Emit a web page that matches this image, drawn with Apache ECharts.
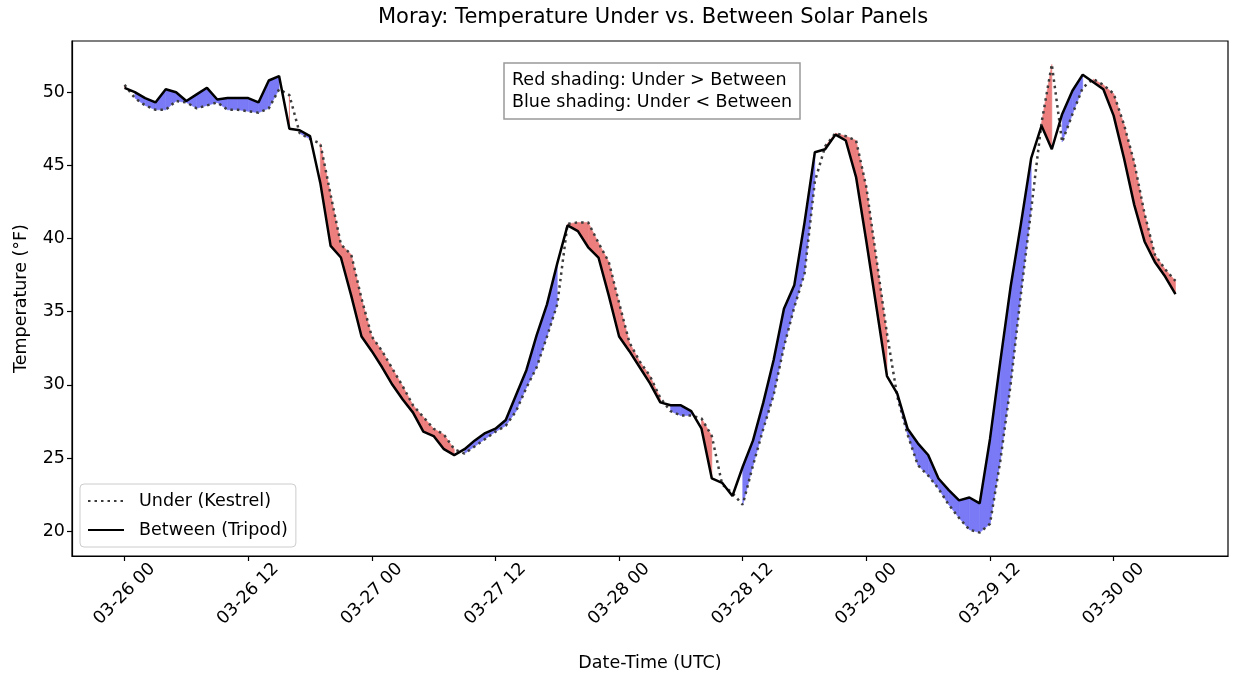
<!DOCTYPE html>
<html>
<head>
<meta charset="utf-8">
<script src="https://cdn.jsdelivr.net/npm/echarts@6/dist/echarts.min.js"></script>
<style>
html,body{margin:0;padding:0;background:#fff;}
#chart{width:1233px;height:677px;}
</style>
</head>
<body>
<div id="chart"></div>
<script>
// Hourly samples, hours since 2025-03-26 00:00 UTC
const hours = [
  0, 1, 2, 3, 4, 5, 6, 7, 8, 9,
  10, 11, 12, 13, 14, 15, 16, 17, 18, 19,
  20, 21, 22, 23, 24, 25, 26, 27, 28, 29,
  30, 31, 32, 33, 34, 35, 36, 37, 38, 39,
  40, 41, 42, 43, 44, 45, 46, 47, 48, 49,
  50, 51, 52, 53, 54, 55, 56, 57, 58, 59,
  60, 61, 62, 63, 64, 65, 66, 67, 68, 69,
  70, 71, 72, 73, 74, 75, 76, 77, 78, 79,
  80, 81, 82, 83, 84, 85, 86, 87, 88, 89,
  90, 91, 92, 93, 94, 95, 96, 97, 98, 99,
  100, 101, 102
];
const under = [
  50.5, 49.6, 49.1, 48.8, 48.8, 49.4, 49.3, 48.9, 49.1, 49.3,
  48.8, 48.8, 48.7, 48.6, 48.9, 50.2, 49.8, 47.2, 46.8, 46.5,
  43.0, 39.6, 38.9, 35.9, 33.3, 32.3, 31.1, 29.9, 28.6, 27.8,
  27.0, 26.6, 25.6, 25.3, 25.8, 26.3, 26.8, 27.2, 28.2, 29.8,
  31.2, 33.3, 35.5, 41.0, 41.1, 41.1, 39.7, 38.4, 35.6, 32.9,
  31.6, 30.6, 29.1, 28.2, 27.9, 27.9, 27.7, 26.5, 23.2, 22.6,
  21.8, 24.5, 27.0, 29.3, 32.6, 35.3, 37.6, 43.9, 46.3, 47.2,
  47.0, 46.7, 43.5, 38.5, 33.5, 29.2, 26.6, 24.5, 23.8, 22.9,
  21.8, 20.9, 20.1, 19.9, 20.5, 24.8, 30.0, 36.2, 42.0, 47.9,
  51.9, 46.6, 48.5, 50.3, 50.9, 50.5, 49.9, 47.8, 45.2, 41.7,
  38.9, 37.9, 37.1
];
const between = [
  50.3, 50.0, 49.6, 49.3, 50.2, 50.0, 49.4, 49.85, 50.3, 49.5,
  49.6, 49.6, 49.6, 49.3, 50.8, 51.1, 47.5, 47.4, 47.0, 43.8,
  39.5, 38.7, 36.1, 33.3, 32.3, 31.2, 30.0, 29.0, 28.1, 26.8,
  26.5, 25.6, 25.2, 25.6, 26.2, 26.7, 27.0, 27.6, 29.3, 31.0,
  33.4, 35.5, 38.3, 40.9, 40.5, 39.4, 38.7, 36.1, 33.3, 32.3,
  31.2, 30.1, 28.8, 28.6, 28.6, 28.2, 27.0, 23.6, 23.3, 22.4,
  24.4, 26.2, 28.8, 31.7, 35.2, 36.8, 41.1, 45.9, 46.1, 47.1,
  46.7, 44.2, 39.8, 35.2, 30.6, 29.4, 27.0, 26.0, 25.2, 23.6,
  22.8, 22.1, 22.3, 21.9, 26.3, 31.6, 36.7, 41.0, 45.5, 47.7,
  46.1, 48.5, 50.1, 51.2, 50.7, 50.2, 48.4, 45.5, 42.3, 39.8,
  38.4, 37.4, 36.2
];
const xTickHours = [0, 12, 24, 36, 48, 60, 72, 84, 96];
const xTickLabels = ['03-26 00', '03-26 12', '03-27 00', '03-27 12', '03-28 00', '03-28 12', '03-29 00', '03-29 12', '03-30 00'];
const yTicks = [20, 25, 30, 35, 40, 45, 50];

const FONT = 'DejaVu Sans';
const FS = 17.5;
const RED = '#ec7e7e';
const BLUE = '#7a7af6';
const DOT = '#3c3c3c';

const n = hours.length;
const sgn = i => Math.sign(under[i] - between[i]);
const fillData = hours.map((h, i) => [h, under[i], between[i]]);

const chart = echarts.init(document.getElementById('chart'), null, {renderer: 'canvas'});
const option = {
  animation: false,
  backgroundColor: '#ffffff',
  grid: {left: 72, right: 5, top: 41, bottom: 120, show: true, borderColor: '#000', borderWidth: 1.2, backgroundColor: 'transparent'},
  graphic: [{
    type: 'text', left: 378, top: 7,
    style: {text: 'Moray: Temperature Under vs. Between Solar Panels', fontFamily: FONT, fontSize: 21, fill: '#000'}
  }],
  title: [{
    text: 'Red shading: Under > Between\nBlue shading: Under < Between',
    left: 504, top: 63, padding: [6, 8, 6, 8],
    borderColor: '#999', borderWidth: 1.5,
    backgroundColor: '#fff',
    textStyle: {fontFamily: FONT, fontSize: FS, fontWeight: 'normal', color: '#000', lineHeight: 22}
  }],
  legend: {
    orient: 'vertical', left: 80, top: 484,
    itemWidth: 36, itemHeight: 14, itemGap: 11,
    padding: [8, 8, 8, 7],
    borderColor: '#cccccc', borderWidth: 1, borderRadius: 4,
    backgroundColor: 'rgba(255,255,255,0.8)',
    itemStyle: {color: 'rgba(0,0,0,0)', borderColor: 'rgba(0,0,0,0)', borderWidth: 0, opacity: 0},
    textStyle: {fontFamily: FONT, fontSize: FS, color: '#000', padding: [0, 0, 0, 10]},
    data: ['Under (Kestrel)', 'Between (Tripod)']
  },
  xAxis: {
    type: 'value',
    min: -5.1, max: 107.1,
    name: 'Date-Time (UTC)', nameLocation: 'middle', nameGap: 98,
    nameTextStyle: {fontFamily: FONT, fontSize: FS, color: '#000'},
    axisLine: {show: true, onZero: false, lineStyle: {color: '#000', width: 1.2}},
    axisTick: {show: true, length: 5, lineStyle: {color: '#000', width: 1.2}, customValues: xTickHours},
    axisLabel: {
      customValues: xTickHours,
      rotate: 45, align: 'center', verticalAlign: 'middle', margin: 38,
      fontFamily: FONT, fontSize: FS, color: '#000',
      formatter: function (v) {
        const idx = xTickHours.indexOf(Math.round(v));
        return idx >= 0 ? xTickLabels[idx] : '';
      }
    },
    splitLine: {show: false}
  },
  yAxis: {
    type: 'value', min: 18.3, max: 53.5,
    name: 'Temperature (°F)', nameLocation: 'middle', nameGap: 42,
    nameTextStyle: {fontFamily: FONT, fontSize: FS, color: '#000'},
    axisLine: {show: true, onZero: false, lineStyle: {color: '#000', width: 1.2}},
    axisTick: {show: true, length: 5, lineStyle: {color: '#000', width: 1.2}, customValues: yTicks},
    axisLabel: {customValues: yTicks, fontFamily: FONT, fontSize: FS, color: '#000', margin: 7},
    splitLine: {show: false}
  },
  series: [
    {
      type: 'custom', name: 'shading', silent: true, z: 1,
      data: fillData,
      encode: {x: 0, y: [1, 2]},
      renderItem: function (params, api) {
        const i = params.dataIndex;
        const si = sgn(i);
        if (si === 0) return null;
        const children = [];
        const color = si > 0 ? RED : BLUE;
        if (i < n - 1 && sgn(i + 1) === si) {
          const pts = [
            api.coord([hours[i], under[i]]),
            api.coord([hours[i + 1], under[i + 1]]),
            api.coord([hours[i + 1], between[i + 1]]),
            api.coord([hours[i], between[i]])
          ];
          children.push({type: 'polygon', shape: {points: pts}, style: {fill: color, stroke: color, lineWidth: 0.6}});
        } else {
          const prevSame = i > 0 && sgn(i - 1) === si;
          if (!prevSame) {
            const a = api.coord([hours[i], under[i]]);
            const b = api.coord([hours[i], between[i]]);
            children.push({type: 'line', shape: {x1: a[0], y1: a[1], x2: b[0], y2: b[1]}, style: {stroke: color, lineWidth: 1}});
          }
        }
        return {type: 'group', children: children};
      }
    },
    {
      type: 'line', name: 'Under (Kestrel)', z: 3,
      data: hours.map((h, i) => [h, under[i]]),
      symbol: 'none', showSymbol: false,
      lineStyle: {color: DOT, width: 2.5, type: [2.5, 4]},
      itemStyle: {color: DOT}
    },
    {
      type: 'line', name: 'Between (Tripod)', z: 4,
      data: hours.map((h, i) => [h, between[i]]),
      symbol: 'none', showSymbol: false,
      lineStyle: {color: '#000000', width: 2.5},
      itemStyle: {color: '#000000'}
    }
  ]
};
chart.setOption(option);
</script>
</body>
</html>
